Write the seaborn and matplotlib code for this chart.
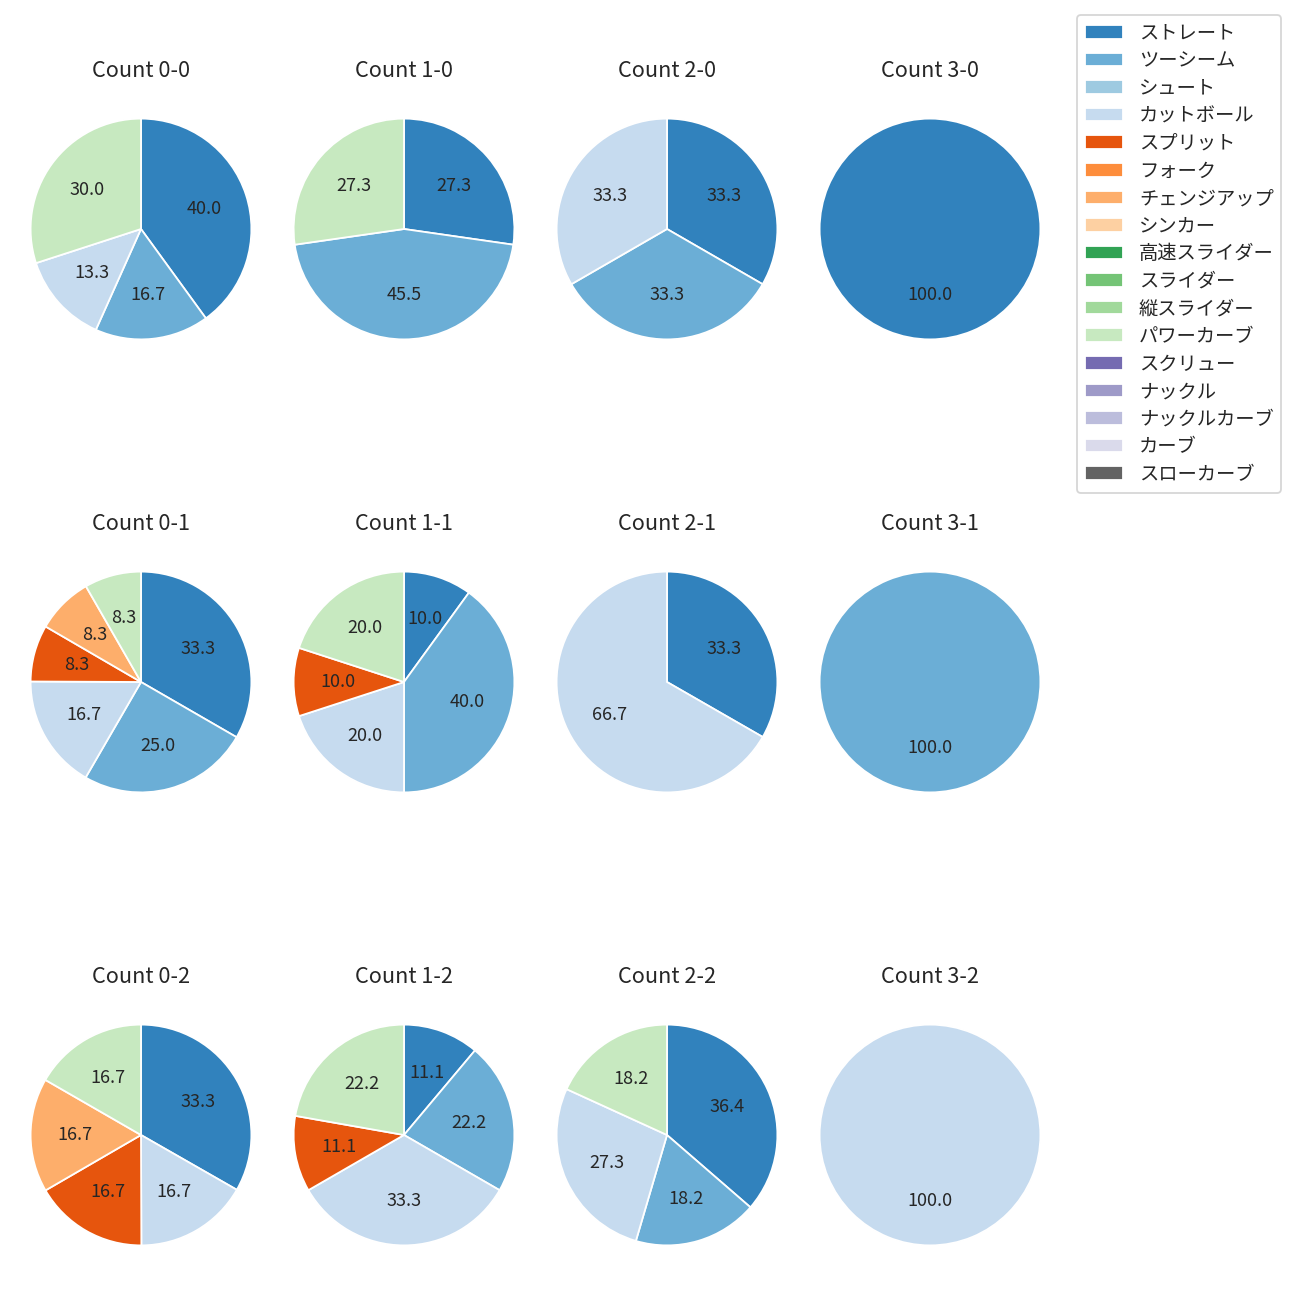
import matplotlib
matplotlib.use('Agg')
import matplotlib.pyplot as plt
from matplotlib.patches import Patch
import seaborn as sns

sns.set_style('white')
plt.rcParams['font.family'] = ['Noto Sans CJK JP', 'DejaVu Sans']

# pitch types in legend order
pitch_types = ['ストレート', 'ツーシーム', 'シュート', 'カットボール', 'スプリット', 'フォーク',
               'チェンジアップ', 'シンカー', '高速スライダー', 'スライダー', '縦スライダー',
               'パワーカーブ', 'スクリュー', 'ナックル', 'ナックルカーブ', 'カーブ', 'スローカーブ']
colors = sns.color_palette('tab20c', 20)[:17]
color_map = dict(zip(pitch_types, colors))

# share of pitches (%) for each ball-strike count
share_0_0 = {'ストレート': 40.0, 'ツーシーム': 16.7, 'カットボール': 13.3, 'パワーカーブ': 30.0}
share_1_0 = {'ストレート': 27.3, 'ツーシーム': 45.5, 'パワーカーブ': 27.3}
share_2_0 = {'ストレート': 33.3, 'ツーシーム': 33.3, 'カットボール': 33.3}
share_3_0 = {'ストレート': 100.0}
share_0_1 = {'ストレート': 33.3, 'ツーシーム': 25.0, 'カットボール': 16.7, 'スプリット': 8.3,
             'チェンジアップ': 8.3, 'パワーカーブ': 8.3}
share_1_1 = {'ストレート': 10.0, 'ツーシーム': 40.0, 'カットボール': 20.0, 'スプリット': 10.0,
             'パワーカーブ': 20.0}
share_2_1 = {'ストレート': 33.3, 'カットボール': 66.7}
share_3_1 = {'ツーシーム': 100.0}
share_0_2 = {'ストレート': 33.3, 'カットボール': 16.7, 'スプリット': 16.7, 'チェンジアップ': 16.7,
             'パワーカーブ': 16.7}
share_1_2 = {'ストレート': 11.1, 'ツーシーム': 22.2, 'カットボール': 33.3, 'スプリット': 11.1,
             'パワーカーブ': 22.2}
share_2_2 = {'ストレート': 36.4, 'ツーシーム': 18.2, 'カットボール': 27.3, 'パワーカーブ': 18.2}
share_3_2 = {'カットボール': 100.0}

grid = [
    [('0-0', share_0_0), ('1-0', share_1_0), ('2-0', share_2_0), ('3-0', share_3_0)],
    [('0-1', share_0_1), ('1-1', share_1_1), ('2-1', share_2_1), ('3-1', share_3_1)],
    [('0-2', share_0_2), ('1-2', share_1_2), ('2-2', share_2_2), ('3-2', share_3_2)],
]

W = H = 1300
fig, axes = plt.subplots(3, 4, figsize=(10, 10), dpi=130)

size = 276  # axes box in px
for i, row in enumerate(grid):
    for j, (count, share) in enumerate(row):
        ax = axes[i, j]
        cx = 141 + 263 * j
        cy = 229 + 453 * i
        ax.set_position([(cx - size / 2) / W, 1 - (cy + size / 2) / H, size / W, size / H])
        names = list(share.keys())
        vals = list(share.values())
        ax.pie(vals, colors=[color_map[n] for n in names], startangle=90,
               counterclock=False, autopct='%.1f', textprops={'fontsize': 10})
        ax.set_aspect('equal')
        ax.set_title(f'Count {count}', fontsize=12, pad=8)

handles = [Patch(facecolor=color_map[p], label=p) for p in pitch_types]
fig.legend(handles=handles, loc='upper left', bbox_to_anchor=(1077 / W, 1 - 15 / H),
           borderaxespad=0, fontsize=10.7, labelspacing=0.34)

fig.savefig('out.png', dpi=130)
